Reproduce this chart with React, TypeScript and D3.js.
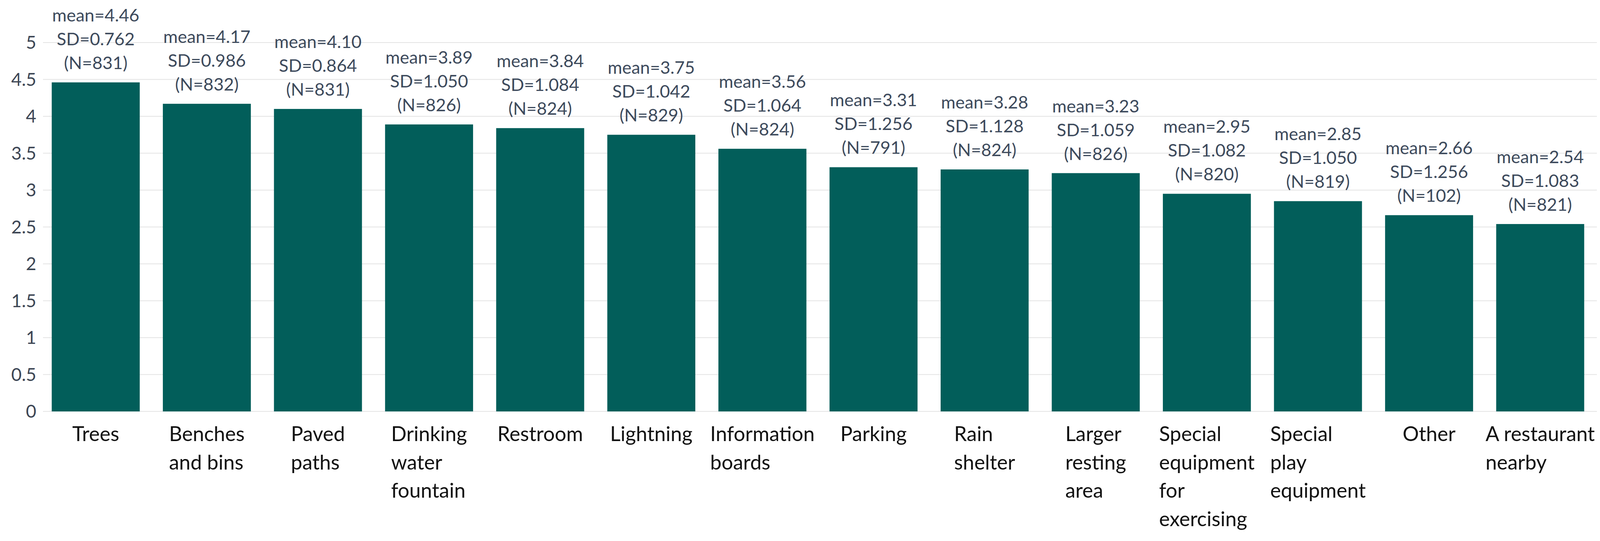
import React, { useEffect, useRef } from 'react';
import * as d3 from 'd3';

// facility categories, wrapped the way the original axis shows them
const categories: string[][] = [
  ['Trees'],
  ['Benches', 'and bins'],
  ['Paved', 'paths'],
  ['Drinking', 'water', 'fountain'],
  ['Restroom'],
  ['Lightning'],
  ['Information', 'boards'],
  ['Parking'],
  ['Rain', 'shelter'],
  ['Larger', 'resting', 'area'],
  ['Special', 'equipment', 'for', 'exercising'],
  ['Special', 'play', 'equipment'],
  ['Other'],
  ['A restaurant', 'nearby'],
];

const means = [4.46, 4.17, 4.10, 3.89, 3.84, 3.75, 3.56, 3.31, 3.28, 3.23, 2.95, 2.85, 2.66, 2.54];
const sds = [0.762, 0.986, 0.864, 1.050, 1.084, 1.042, 1.064, 1.256, 1.128, 1.059, 1.082, 1.050, 1.256, 1.083];
const counts = [831, 832, 831, 826, 824, 829, 824, 791, 824, 826, 820, 819, 102, 821];

const yTicks = [0, 0.5, 1, 1.5, 2, 2.5, 3, 3.5, 4, 4.5, 5];

const W = 4133;
const H = 1386;
const FONT = 'Lato, "Open Sans", sans-serif';

const App: React.FC = () => {
  const svgRef = useRef<SVGSVGElement>(null);

  useEffect(() => {
    const svg = d3.select(svgRef.current);
    svg.selectAll('*').remove();

    const keys = categories.map((c) => c.join(' '));

    const x = d3.scaleBand()
      .domain(keys)
      .range([104, 4084])
      .paddingInner(0.208)
      .paddingOuter(0.1);

    const y = d3.scaleLinear().domain([0, 5]).range([1054, 109]);

    svg.append('rect')
      .attr('width', W)
      .attr('height', H)
      .attr('fill', '#ffffff');

    // gridlines
    svg.append('g')
      .selectAll('line')
      .data(yTicks)
      .join('line')
      .attr('x1', 110)
      .attr('x2', 4088)
      .attr('y1', (d) => y(d))
      .attr('y2', (d) => y(d))
      .attr('stroke', '#e4e4e4')
      .attr('stroke-width', 2);

    // y tick labels
    svg.append('g')
      .selectAll('text')
      .data(yTicks)
      .join('text')
      .attr('x', 93)
      .attr('y', (d) => y(d))
      .attr('dy', '0.35em')
      .attr('text-anchor', 'end')
      .style('font-family', FONT)
      .style('font-size', '46px')
      .style('fill', '#3d4654')
      .text((d) => d3.format('~g')(d));

    // bars
    svg.append('g')
      .selectAll('rect')
      .data(means)
      .join('rect')
      .attr('x', (_, i) => x(keys[i])!)
      .attr('y', (d) => y(d))
      .attr('width', x.bandwidth())
      .attr('height', (d) => y(0) - y(d))
      .attr('fill', '#025e5a');

    // annotations above bars
    const fmt2 = d3.format('.2f');
    const fmt3 = d3.format('.3f');
    means.forEach((m, i) => {
      const cx = x(keys[i])! + x.bandwidth() / 2;
      const lines = [`mean=${fmt2(m)}`, `SD=${fmt3(sds[i])}`, `(N=${counts[i]})`];
      const t = svg.append('text')
        .attr('text-anchor', 'middle')
        .style('font-family', FONT)
        .style('font-size', '45px')
        .style('fill', '#3d4a5c');
      lines.forEach((l, j) => {
        t.append('tspan')
          .attr('x', cx)
          .attr('y', y(m) - 34 - (lines.length - 1 - j) * 61)
          .text(l);
      });
    });

    // category labels: left-aligned lines, block centred under the bar
    categories.forEach((lines, i) => {
      const cx = x(keys[i])! + x.bandwidth() / 2;
      const t = svg.append('text')
        .style('font-family', FONT)
        .style('font-size', '52px')
        .style('fill', '#111111');
      const spans = lines.map((l, j) =>
        t.append('tspan').attr('y', 1130 + j * 72.5).text(l)
      );
      const widest = d3.max(spans, (s) => (s.node() as SVGTSpanElement).getComputedTextLength()) || 0;
      spans.forEach((s) => s.attr('x', cx - widest / 2));
    });
  }, []);

  return (
    <svg
      ref={svgRef}
      width={W}
      height={H}
      style={{ position: 'absolute', left: 0, top: 0, display: 'block' }}
    />
  );
};

export default App;
